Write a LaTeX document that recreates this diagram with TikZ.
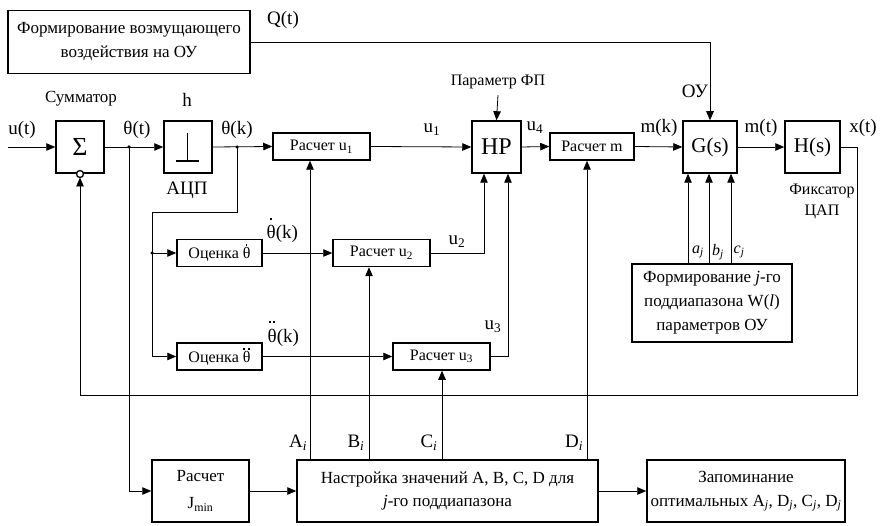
\documentclass[tikz,border=0pt]{standalone}
\usepackage{fontspec}
\setmainfont{Liberation Serif}
\usetikzlibrary{arrows.meta}
\newcommand\thdotA[1]{θ\llap{\raisebox{#1}{\rule{1.7pt}{1.7pt}}\kern\dimexpr0.25em-0.85pt\relax}}
\newcommand\thdotB[1]{θ\llap{\raisebox{#1}{\rule{1.7pt}{1.7pt}\kern2.8pt\rule{1.7pt}{1.7pt}}\kern\dimexpr0.25em-3.1pt\relax}}
\tikzset{
  blk/.style={draw, line width=1.5pt, inner sep=0pt, align=center, font=\fontsize{16}{24}\selectfont},
  big/.style={blk, font=\fontsize{22}{24}\selectfont},
  conn/.style={line width=0.8pt, -{Triangle[length=9pt,width=7.5pt]}},
  lbl/.style={inner sep=0pt, font=\fontsize{19}{22}\selectfont},
  slbl/.style={inner sep=0pt, font=\fontsize{16}{21}\selectfont, align=center},
  jdot/.style={circle, fill, inner sep=0pt, minimum size=3.5pt}
}
\begin{document}
\begin{tikzpicture}[x=1pt,y=-1pt]
\useasboundingbox (0,0) rectangle (883,526);
% blocks
\node[blk, minimum width=242, minimum height=63, font=\fontsize{17}{24}\selectfont] (dist) at (129,42) {Формирование возмущающего\\воздействия на ОУ};
\node[big, minimum width=48, minimum height=52, font=\fontsize{26}{28}\selectfont] (sum) at (80,147) {Σ};
\node[blk, minimum width=48, minimum height=52] (adc) at (188,147) {};
\node[blk, minimum width=97, minimum height=27] (r1) at (321.5,146.5) {Расчет u\textsubscript{1}};
\node[big, minimum width=49, minimum height=52, font=\fontsize{24}{26}\selectfont] (hp) at (496.5,147) {HP};
\node[blk, minimum width=84, minimum height=27] (rm) at (592,146.5) {Расчет m};
\node[big, minimum width=54, minimum height=52, font=\fontsize{21}{24}\selectfont] (G) at (710,147) {G(s)};
\node[big, minimum width=55, minimum height=52, font=\fontsize{21}{24}\selectfont] (H) at (812.5,147) {H(s)};
\node[blk, minimum width=85, minimum height=27] (e1) at (219.5,253) {Оценка \thdotA{0.78em}};
\node[blk, minimum width=85, minimum height=27] (e2) at (219.5,356.5) {Оценка \thdotB{0.78em}};
\node[blk, minimum width=97, minimum height=27] (r2) at (381.5,253) {Расчет u\textsubscript{2}};
\node[blk, minimum width=97, minimum height=27] (r3) at (441.5,356.5) {Расчет u\textsubscript{3}};
\node[blk, minimum width=97, minimum height=62, font=\fontsize{17}{27}\selectfont] (jmin) at (200.5,491) {Расчет\\J\textsubscript{min}};
\node[blk, minimum width=301, minimum height=62, font=\fontsize{17}{23}\selectfont] (tune) at (447.5,491) {Настройка значений A, B, C, D для\\\textit{j}-го поддиапазона};
\node[blk, minimum width=198, minimum height=62, font=\fontsize{17}{24}\selectfont] (mem) at (746,491) {Запоминание\\оптимальных A\textsubscript{\textit{j}}, D\textsubscript{\textit{j}}, C\textsubscript{\textit{j}}, D\textsubscript{\textit{j}}};
\node[blk, minimum width=160, minimum height=78, font=\fontsize{17}{24}\selectfont] (form) at (712,303) {Формирование \textit{j}-го\\поддиапазона W(\textit{l})\\параметров ОУ};
% ADC symbol
\coordinate (bt1) at (176,161);
\coordinate (bt2) at (199,161);
\coordinate (bt3) at (187.5,133);
\coordinate (bt4) at (187.5,161);
\draw[line width=1.3pt] (bt1) -- (bt2) (bt3) -- (bt4);
% junctions and helpers
\coordinate (in) at (8,147);
\node[jdot] (j1) at (129,147) {};
\node[jdot] (j2) at (237,147) {};
\node[jdot] (j3) at (152,253) {};
\coordinate (k1) at (237,212);
\coordinate (k2) at (152,212);
\coordinate (f1) at (857,147);
\coordinate (f2) at (857,395);
\coordinate (f3) at (80,395);
\coordinate (negb) at (80,177.5);
% main chain
\draw[conn] (in) -- (sum.west);
\draw[conn] (sum.east) -- (adc.west);
\draw[conn] (adc.east) -- (r1.west);
\draw[conn] (r1.east) -- (hp.west);
\draw[conn] (hp.east) -- (rm.west);
\draw[conn] (rm.east) -- (G.west);
\draw[conn] (G.east) -- (H.west);
% feedback
\draw[conn] (H.east) -- (f1) -- (f2) -- (f3) -- (negb);
% negation circle
\node[circle, draw, line width=1.3pt, fill=white, minimum size=7pt, inner sep=0pt] (neg) at (80,174) {};
% branches
\draw[conn] (j1.center) |- (jmin.west);
\draw[conn] (j2.center) -- (k1) -- (k2) |- (e2.west);
\draw[conn] (j3.center) -- (e1.west);
\draw[conn] (e1.east) -- (r2.west);
\draw[conn] (e2.east) -- (r3.west);
\draw[conn] (r2.east) -| ([xshift=-12.5pt]hp.south);
\draw[conn] (r3.east) -| ([xshift=11.5pt]hp.south);
% disturbance
\draw[conn] (dist.east) -| (G.north);
% parameter
\node[slbl] (par) at (498,82) {Параметр ФП};
\draw[conn] ([yshift=-6pt]par.south) -- (hp.north);
% tuning
\draw[conn] ([xshift=-11.5pt]r1.south |- tune.north) -- ([xshift=-11.5pt]r1.south);
\draw[conn] ([xshift=-12.5pt]r2.south |- tune.north) -- ([xshift=-12.5pt]r2.south);
\draw[conn] ([xshift=0.5pt]r3.south |- tune.north) -- ([xshift=0.5pt]r3.south);
\draw[conn] ([xshift=-5pt]rm.south |- tune.north) -- ([xshift=-5pt]rm.south);
\draw[conn] (jmin.east) -- (tune.west);
\draw[conn] (tune.east) -- (mem.west);
% object parameters
\draw[conn] ([xshift=-22pt]G.south |- form.north) -- ([xshift=-22pt]G.south);
\draw[conn] ([xshift=-1pt]G.south |- form.north) -- ([xshift=-1pt]G.south);
\draw[conn] ([xshift=21pt]G.south |- form.north) -- ([xshift=21pt]G.south);
% labels
\node[lbl] (lQ) at (283,20) {Q(t)};
\node[slbl, font=\fontsize{17}{21}\selectfont] (lsum) at (81,99) {Сумматор};
\node[lbl] (lh) at (187,100) {h};
\node[lbl] (ladc) at (187,190) {АЦП};
\node[lbl] (lu) at (22,130) {u(t)};
\node[lbl] (lth) at (137,130) {θ(t)};
\node[lbl] (lthk) at (237,130) {θ(k)};
\node[lbl] (lu1) at (432,130) {u\textsubscript{1}};
\node[lbl] (lu4) at (535,128) {u\textsubscript{4}};
\node[lbl] (lmk) at (659,128) {m(k)};
\node[lbl] (lmt) at (761,128) {m(t)};
\node[lbl] (lxt) at (863,128) {x(t)};
\node[lbl] (lou) at (695,91) {ОУ};
\node[slbl] (lfix) at (822,201) {Фиксатор\\ЦАП};
\node[lbl, anchor=base west] (ld1) at (266.5,239) {\thdotA{1.02em}(k)};
\node[lbl, anchor=base west] (ld2) at (267.5,342.3) {\thdotB{1.02em}(k)};
\node[lbl] (lu2) at (457,242) {u\textsubscript{2}};
\node[lbl] (lu3) at (493,327) {u\textsubscript{3}};
\node[lbl] (lA) at (298,443) {A\textsubscript{\textit{i}}};
\node[lbl] (lB) at (356,443) {B\textsubscript{\textit{i}}};
\node[lbl] (lC) at (429,443) {C\textsubscript{\textit{i}}};
\node[lbl] (lD) at (574,443) {D\textsubscript{\textit{i}}};
\node[slbl, font=\fontsize{16}{20}\selectfont\itshape] (la) at (698,252) {a\textsubscript{j}};
\node[slbl, font=\fontsize{16}{20}\selectfont\itshape] (lb) at (718,252) {b\textsubscript{j}};
\node[slbl, font=\fontsize{16}{20}\selectfont\itshape] (lc) at (739,252) {c\textsubscript{j}};
\end{tikzpicture}
\end{document}
